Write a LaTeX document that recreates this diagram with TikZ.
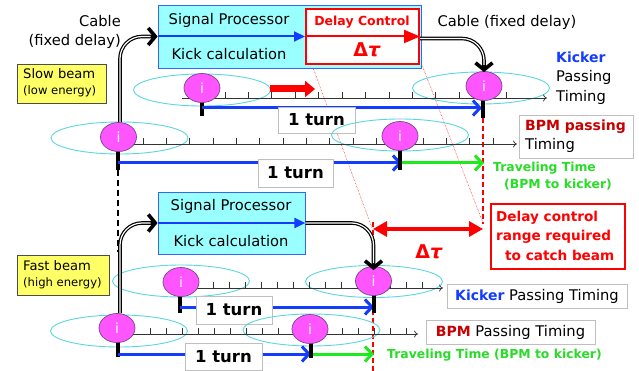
\documentclass[tikz,border=0pt]{standalone}
\usepackage{fontspec}
\setmainfont{DejaVu Sans}
\usetikzlibrary{arrows.meta,shapes.geometric}
\newcommand\fs[2]{\fontsize{#1}{#2}\selectfont}
\definecolor{cyanbox}{RGB}{153,255,255}
\definecolor{boxblue}{RGB}{51,102,255}
\definecolor{arrblue}{RGB}{20,60,255}
\definecolor{beadfill}{RGB}{255,85,255}
\definecolor{beadline}{RGB}{120,70,140}
\definecolor{ringcol}{RGB}{90,215,225}
\definecolor{yel}{RGB}{255,255,102}
\definecolor{grn}{RGB}{30,235,30}
\definecolor{grntext}{RGB}{40,220,40}
\definecolor{dkred}{RGB}{200,0,0}
\tikzset{
 txt/.style={inner sep=0, font=\fs{14.7}{19.5}},
 spbox/.style={draw=boxblue, fill=cyanbox, line width=0.8, inner sep=0},
 dcbox/.style={draw=red, fill=white, line width=2, inner sep=0},
 bead/.style={ellipse, draw=beadline, line width=0.7, fill=beadfill, minimum width=36, minimum height=29, inner sep=0, text=white, font=\fs{14}{14}},
 ring/.style={ellipse, draw=ringcol, line width=0.9, minimum width=137, minimum height=32, inner sep=0},
 tl/.style={draw=black!80, line width=0.7, -{To[length=4pt,width=7pt]}},
 tk/.style={draw=black!80, line width=0.7},
 stub/.style={draw=black, line width=3.2},
 turnarrow/.style={draw=arrblue, line width=3, -{Straight Barb[length=7pt,width=15pt]}},
 grnarrow/.style={draw=grn, line width=3, -{Straight Barb[length=7pt,width=15pt]}},
 inarrow/.style={draw=arrblue, line width=2, -{Triangle[length=11pt,width=10pt]}},
 turnbox/.style={draw=black!25, fill=white, inner sep=0, minimum width=76, minimum height=27, font=\bfseries\fs{16.5}{18}},
 labbox/.style={draw=black!25, fill=white, inner sep=0},
 yelbox/.style={draw=black!70, fill=yel, line width=0.8, inner sep=0},
 cableo/.style={draw=black, line width=3.6, rounded corners=22, -{Straight Barb[length=7pt,width=17pt]}},
 cablei/.style={draw=white, line width=1.2, rounded corners=22, shorten >=7pt},
 vdash/.style={draw=red, line width=1.2, dash pattern=on 5pt off 3pt},
 diag/.style={draw=red, line width=0.5, densely dotted},
}
\begin{document}
\begin{tikzpicture}[x=1pt,y=-1pt]
\useasboundingbox[fill=white] (0,0) rectangle (639,371);

% ---------- diagonal dotted lines and red dashed verticals (behind) ----------
\coordinate (d1s) at (312,65); \coordinate (d1e) at (372,228);
\coordinate (d2s) at (422,65); \coordinate (d2e) at (483,223);
\draw[diag] (d1s) -- (d1e);
\draw[diag] (d2s) -- (d2e);
\coordinate (v1s) at (483,118); \coordinate (v1e) at (483,224);
\coordinate (v2s) at (373,222); \coordinate (v2e) at (373,371);
\draw[vdash] (v1s) -- (v1e);
\draw[vdash] (v2s) -- (v2e);
\coordinate (bd1) at (118,170); \coordinate (bd2) at (118,252);
\draw[black, line width=1.2, dash pattern=on 6pt off 4pt] (bd1) -- (bd2);

% ---------- top processor ----------
\node[spbox, minimum width=263, minimum height=63] (sp1) at (289.5,36.5) {};
\node[txt] (sp1a) at (229,20) {Signal Processor};
\node[txt] (sp1b) at (229,54) {Kick calculation};
\node[dcbox, minimum width=113, minimum height=55] (dc) at (362.5,36.5) {};
\draw[inarrow] (sp1.west) -- (dc.west);
\draw[red, line width=2, -{Triangle[length=16pt,width=13pt]}] (dc.west) -- (dc.east);
\node[txt, text=red, font=\bfseries\fs{12.5}{14}] (dct) at (362,22) {Delay Control};
\node[txt, text=red, font=\bfseries\fs{19}{19}] (dtau1) at (367,50) {Δ\textit{τ}};

\node[txt, anchor=east, align=right] (cab1) at (121,32) {Cable\\(fixed delay)};
\node[txt] (cab2) at (507,22) {Cable (fixed delay)};

\node[yelbox, minimum width=89, minimum height=39] (yb1) at (61.5,83.5) {};
\node[inner sep=0, anchor=west, align=left, font=\fs{13.1}{16}] (yb1t) at (23,83) {Slow beam\\{\fs{11.6}{16}(low energy)}};

% ---------- slow beam: kicker timeline ----------
\node[ring] (r1a) at (202,90) {};
\node[ring] (r1k) at (481,88) {};
\coordinate (t1s) at (182,98); \coordinate (t1e) at (547,98);
\draw[tl] (t1s) -- (t1e);
\foreach \k in {0,...,12} \draw[tk] ({225+23.42*\k},92) -- ++(0,7);
\coordinate (ra1) at (270,89); \coordinate (ra2) at (315,89);
\draw[red, line width=7, -{Triangle[length=10pt,width=16pt]}] (ra1) -- (ra2);

\coordinate (s1a) at (202,102); \coordinate (s1b) at (202,116);
\draw[stub] (s1a) -- (s1b);
\coordinate (k1a) at (483,100); \coordinate (k1b) at (483,118);
\coordinate (a1s) at (202,108); \coordinate (a1e) at (482,108);
\draw[turnarrow] (a1s) -- (a1e);
\draw[stub] (k1a) -- (k1b);
\node[turnbox, minimum width=77, minimum height=26] (tb1) at (316.5,120) {1 turn};

% ---------- slow beam: BPM timeline ----------
\node[ring] (r1b) at (119.5,138) {};
\node[ring] (r1p) at (400,135) {};
\coordinate (t2s) at (120,144); \coordinate (t2e) at (517,144);
\draw[tl] (t2s) -- (t2e);
\foreach \k in {0,...,15} \draw[tk] ({143+23.33*\k},138) -- ++(0,7);
\coordinate (s2a) at (118,150); \coordinate (s2b) at (118,170);
\draw[stub] (s2a) -- (s2b);
\coordinate (a2s) at (118,163); \coordinate (a2e) at (402,163);
\draw[turnarrow] (a2s) -- (a2e);
\coordinate (p1a) at (400,148); \coordinate (p1b) at (400,170);
\coordinate (g1s) at (401,163); \coordinate (g1e) at (484,163);
\draw[grnarrow] (g1s) -- (g1e);
\draw[stub] (p1a) -- (p1b);
\node[turnbox, minimum width=75, minimum height=28] (tb2) at (295.5,173) {1 turn};

% cables (slow)
\node[bead] (b1b) at (118.5,137) {i};
\draw[cableo] ([xshift=1.5pt]b1b.north) |- (sp1.west);
\draw[cablei] ([xshift=1.5pt]b1b.north) |- (sp1.west);
\node[bead] (b1a) at (202,88) {i};
\node[bead] (b1k) at (484,86) {i};
\node[bead] (b1p) at (400,136) {i};
\draw[cableo] ([yshift=-2pt]dc.east) -| ([yshift=-1pt]b1k.north);
\draw[cablei] ([yshift=-2pt]dc.east) -| ([yshift=-1pt]b1k.north);

\node[inner sep=0, anchor=west, align=left, font=\fs{14.7}{19.5}] (kl1) at (556,78) {{\color{arrblue}\bfseries\fs{14}{19.5}Kicker}\\Passing\\Timing};
\node[labbox, minimum width=114, minimum height=43] (bp1) at (576,136.5) {};
\node[inner sep=0, anchor=west, align=left, font=\fs{14.7}{19}] (bp1t) at (525,136) {{\color{dkred}\bfseries\fs{14}{19}BPM passing}\\Timing};
\node[inner sep=0, anchor=west, align=left, text=grntext, font=\bfseries\fs{12.4}{17}] (tt1) at (493,176.5) {Traveling Time\\\hspace*{11pt}(BPM to kicker)};

% ---------- fast beam ----------
\node[spbox, minimum width=147, minimum height=62] (sp2) at (231.5,223) {};
\node[txt] (sp2a) at (231,206) {Signal Processor};
\node[txt] (sp2b) at (231,241) {Kick calculation};
\draw[inarrow] (sp2.west) -- (sp2.east);

\node[yelbox, minimum width=92, minimum height=40] (yb2) at (63,275) {};
\node[inner sep=0, anchor=west, align=left, font=\fs{13.1}{16}] (yb2t) at (23,275) {Fast beam\\{\fs{11.6}{16}(high energy)}};

\node[ring] (r2a) at (181,281) {};
\node[ring] (r2k) at (374,281.5) {};
\coordinate (t3s) at (181,288); \coordinate (t3e) at (443,288);
\draw[tl] (t3s) -- (t3e);
\foreach \k in {0,...,13} \draw[tk] ({213+16.1*\k},282) -- ++(0,7);
\coordinate (s3a) at (180,296); \coordinate (s3b) at (180,313);
\draw[stub] (s3a) -- (s3b);
\coordinate (a3s) at (180,307); \coordinate (a3e) at (374,307);
\draw[turnarrow] (a3s) -- (a3e);
\coordinate (k2a) at (374,295); \coordinate (k2b) at (374,313);
\draw[stub] (k2a) -- (k2b);
\node[turnbox, minimum width=76, minimum height=28] (tb3) at (234,310) {1 turn};

\node[ring] (r2b) at (119,331) {};
\node[ring] (r2p) at (311.5,330) {};
\coordinate (t4s) at (118,334); \coordinate (t4e) at (418,334);
\draw[tl] (t4s) -- (t4e);
\foreach \k in {0,...,16} \draw[tk] ({150+16*\k},328) -- ++(0,7);
\coordinate (s4a) at (118,342); \coordinate (s4b) at (118,357);
\draw[stub] (s4a) -- (s4b);
\coordinate (a4s) at (118,354); \coordinate (a4e) at (311,354);
\draw[turnarrow] (a4s) -- (a4e);
\coordinate (g2s) at (311,354); \coordinate (g2e) at (374,354);
\draw[grnarrow] (g2s) -- (g2e);
\coordinate (p2a) at (311,342); \coordinate (p2b) at (311,358);
\draw[stub] (p2a) -- (p2b);
\node[turnbox, minimum width=77, minimum height=27] (tb4) at (223.5,356.5) {1 turn};

\node[bead] (b2b) at (117,328) {i};
\draw[cableo] ([xshift=3pt]b2b.north) |- (sp2.west);
\draw[cablei] ([xshift=3pt]b2b.north) |- (sp2.west);
\node[bead] (b2a) at (181,282) {i};
\node[bead] (b2k) at (373.5,281) {i};
\node[bead] (b2p) at (310,329) {i};
\draw[cableo] (sp2.east) -| ([yshift=-4pt]b2k.north);
\draw[cablei] (sp2.east) -| ([yshift=-4pt]b2k.north);

\node[labbox, minimum width=180, minimum height=24] (kp2) at (537,296) {};
\node[inner sep=0, font=\fs{14.7}{18}] (kp2t) at (537,296) {{\color{arrblue}\bfseries\fs{14}{18}Kicker} Passing Timing};
\node[labbox, minimum width=169, minimum height=24] (bp2) at (510.5,332) {};
\node[inner sep=0, font=\fs{14.7}{18}] (bp2t) at (510.5,332) {{\color{dkred}\bfseries\fs{14}{18}BPM} Passing Timing};
\node[inner sep=0, text=grntext, font=\bfseries\fs{12.4}{16}] (tt2) at (494.5,355) {Traveling Time (BPM to kicker)};

% delay range
\coordinate (dr1) at (373,229); \coordinate (dr2) at (483,229);
\draw[red, line width=3.2, {Triangle[length=14pt,width=15pt]}-{Triangle[length=14pt,width=15pt]}] (dr1) -- (dr2);
\node[txt, text=red, font=\bfseries\fs{19}{19}] (dtau2) at (429,252) {Δ\textit{τ}};
\node[draw=red, line width=2, fill=white, minimum width=134, minimum height=65, inner sep=0] (rb) at (558,236.5) {};
\node[inner sep=0, anchor=west, align=left, text=red, font=\bfseries\fs{13.6}{19.5}] (rbt) at (496,235.5) {Delay control\\range required\\\hspace*{9pt}to catch beam};
\end{tikzpicture}
\end{document}
